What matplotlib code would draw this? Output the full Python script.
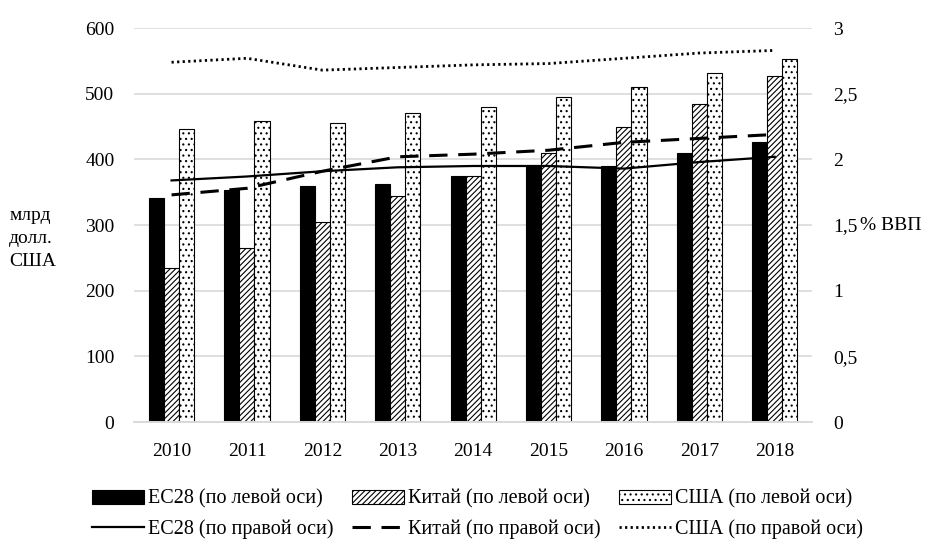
# ЕС28, Китай и США: млрд долл. США (столбцы) и % ВВП (линии)
import numpy as np
import matplotlib.pyplot as plt

plt.rcParams['font.family'] = ['Liberation Serif', 'DejaVu Serif']
plt.rcParams['hatch.linewidth'] = 0.8

years = ['2010', '2011', '2012', '2013', '2014', '2015', '2016', '2017', '2018']

# левая ось, млрд долл. США
eu_bln = [341, 354, 360, 363, 375, 390, 390, 410, 427]
china_bln = [234, 265, 305, 345, 375, 410, 450, 485, 527]
usa_bln = [447, 458, 455, 470, 480, 495, 510, 532, 553]

# правая ось, % ВВП
eu_gdp = [1.84, 1.87, 1.91, 1.94, 1.95, 1.95, 1.93, 1.98, 2.02]
china_gdp = [1.73, 1.78, 1.91, 2.02, 2.04, 2.07, 2.13, 2.16, 2.19]
usa_gdp = [2.74, 2.77, 2.68, 2.70, 2.72, 2.73, 2.77, 2.81, 2.83]

left_ticks = [0, 100, 200, 300, 400, 500, 600]
right_ticks = [0, 0.5, 1, 1.5, 2, 2.5, 3]
right_labels = ['0', '0,5', '1', '1,5', '2', '2,5', '3']

x = np.arange(len(years))
w = 0.2
fs = 14

fig = plt.figure(figsize=(9.36, 5.51), dpi=100)
ax = fig.add_axes([0.143, 0.234, 0.725, 0.715])
ax2 = ax.twinx()

b1 = ax.bar(x - w, eu_bln, w, color='black', edgecolor='black', linewidth=0.8,
            label='ЕС28 (по левой оси)')
b2 = ax.bar(x, china_bln, w, color='white', edgecolor='black', hatch='//////',
            linewidth=0.8, label='Китай (по левой оси)')
b3 = ax.bar(x + w, usa_bln, w, color='white', edgecolor='black', hatch='...',
            linewidth=0.8, label='США (по левой оси)')

l1, = ax2.plot(x, eu_gdp, color='black', lw=1.6, label='ЕС28 (по правой оси)')
l2, = ax2.plot(x, china_gdp, color='black', lw=2.2, ls=(0, (6, 3.5)),
               label='Китай (по правой оси)')
l3, = ax2.plot(x, usa_gdp, color='black', lw=2.0, ls=(0, (0.8, 1.2)),
               label='США (по правой оси)')

ax.set_xlim(-0.5, len(years) - 0.5)
ax.set_ylim(0, 600)
ax2.set_ylim(0, 3)
ax.set_yticks(left_ticks)
ax2.set_yticks(right_ticks)
ax2.set_yticklabels(right_labels)
ax.set_xticks(x)
ax.set_xticklabels(years)

ax.grid(axis='y', color='#d9d9d9', lw=1.2)
ax.set_axisbelow(True)
for a in (ax, ax2):
    for s in ['top', 'left', 'right']:
        a.spines[s].set_visible(False)
    a.spines['bottom'].set_color('#d9d9d9')
    a.spines['bottom'].set_linewidth(1.2)
ax.tick_params(axis='x', length=0, labelsize=fs, pad=15)
ax.tick_params(axis='y', length=0, labelsize=fs, pad=14)
ax2.tick_params(axis='y', length=0, labelsize=fs, pad=15)

fig.text(0.010, 0.567, 'млрд\nдолл.\nСША', fontsize=fs, ha='left', va='center',
         linespacing=1.45)
fig.text(0.919, 0.59, '% ВВП', fontsize=fs, ha='left', va='center')

handles = [b1, l1, b2, l2, b3, l3]
fig.legend(handles, [h.get_label() for h in handles],
           loc='lower center', bbox_to_anchor=(0.51, -0.012), ncol=3,
           frameon=False, fontsize=14.5, handlelength=2.6, handletextpad=0.2,
           columnspacing=0.9, labelspacing=0.55)

plt.savefig('out.png', dpi=100)
plt.close()
